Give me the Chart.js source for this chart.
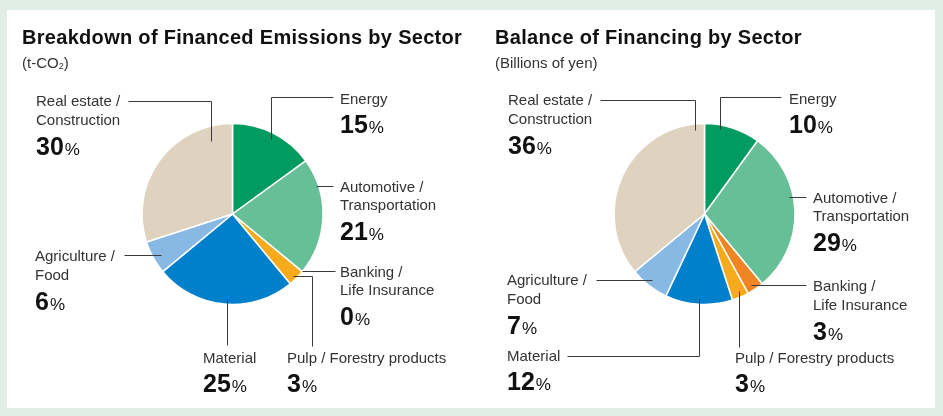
<!DOCTYPE html>
<html lang="en">
<head>
<meta charset="UTF-8">
<title>Financed Emissions and Financing by Sector</title>
<script src="https://cdn.jsdelivr.net/npm/chart.js"></script>
<style>
  html, body { margin: 0; padding: 0; }
  body {
    width: 943px; height: 416px; position: relative; overflow: hidden;
    background: #e0eee6;
    font-family: "Liberation Sans", Arial, sans-serif;
  }
  #panel { position: absolute; left: 7px; top: 10px; width: 928px; height: 398px; background: #fff; }
  canvas { position: absolute; left: 0; top: 0; }
  .title { position: absolute; font-size: 20px; font-weight: bold; letter-spacing: 0.3px; color: #111; white-space: nowrap; line-height: 24px; }
  .unit { position: absolute; font-size: 15px; color: #333; white-space: nowrap; line-height: 18px; }
  .unit sub { font-size: 9px; vertical-align: -1px; }
  .lbl { position: absolute; font-size: 15px; color: #333; white-space: nowrap; line-height: 18px; }
  .pct { position: absolute; font-size: 25px; font-weight: bold; color: #111; white-space: nowrap; line-height: 28px; }
  .pct span { font-size: 17px; font-weight: normal; margin-left: 1px; }
</style>
</head>
<body>
<div id="panel"></div>
<canvas id="emissionsChart" width="943" height="416"></canvas>
<canvas id="financingChart" width="943" height="416"></canvas>

<div class="title" style="left:22px; top:25px;">Breakdown of Financed Emissions by Sector</div>
<div class="unit" style="left:22px; top:54px;">(t-CO<sub>2</sub>)</div>
<div class="title" style="left:495px; top:25px;">Balance of Financing by Sector</div>
<div class="unit" style="left:495px; top:54px;">(Billions of yen)</div>

<script>
// Sector names (one entry per text line), same order as the slices, clockwise from 12 o'clock
const sectorNames = [
  ['Energy'],
  ['Automotive /', 'Transportation'],
  ['Banking /', 'Life Insurance'],
  ['Pulp / Forestry products'],
  ['Material'],
  ['Agriculture /', 'Food'],
  ['Real estate /', 'Construction']
];
// Shares in %
const emissionsShare = [15, 21, 0, 3, 25, 6, 30];
const financingShare = [10, 29, 3, 3, 12, 7, 36];
const sectorColors = ['#009b5f', '#67bf98', '#ef8523', '#f6aa1c', '#0080cb', '#88b9e5', '#dfd3bf'];

// Label placement: x/y = text position (centre of first line),
// at/rf = where the leader starts inside the slice (fraction of the slice, fraction of radius),
// path = bends of the leader line
const emissionsLayout = [
  { x: 340, y: 99,  at: 0.51, rf: 0.93, path: [{ y: 97.5 }, { x: 333 }] },
  { x: 340, y: 187, at: 0.24, rf: 0.98, path: [{ x: 333 }] },
  { x: 340, y: 272, at: 0.0,  rf: 1.0,  path: [{ x: 335 }] },
  { x: 287, y: 358, at: 0.58, rf: 0.965, path: [{ x: 312.5 }, { y: 346.5 }] },
  { x: 203, y: 358, at: 0.48, rf: 0.95, path: [{ y: 345 }] },
  { x: 35,  y: 256.5, at: 0.42, rf: 0.91, path: [{ x: 124 }] },
  { x: 36,  y: 101.5, at: 0.85, rf: 0.83, path: [{ y: 101.5 }, { x: 128 }] }
];
const financingLayout = [
  { x: 789, y: 99,  at: 0.30, rf: 0.945, path: [{ y: 97.5 }, { x: 781.5 }] },
  { x: 813, y: 198, at: 0.41, rf: 0.955, path: [{ x: 806.5 }] },
  { x: 813, y: 286.5, at: 0.59, rf: 0.95, path: [{ x: 806.5 }] },
  { x: 735, y: 358, at: 0.44, rf: 0.94, path: [{ y: 347 }] },
  { x: 507, y: 356, at: 0.49, rf: 0.93, path: [{ y: 356.5 }, { x: 567 }] },
  { x: 507, y: 280.5, at: 0.5, rf: 0.93, path: [{ x: 596 }] },
  { x: 508, y: 100.5, at: 0.955, rf: 0.93, path: [{ y: 100.5 }, { x: 600 }] }
];

const W = 943, H = 416;
const LINE_GAP = 18.8, PCT_GAP = 25;

function leaderLines(layout) {
  return {
    id: 'leaders',
    afterDatasetsDraw(chart) {
      const ctx = chart.ctx;
      const arcs = chart.getDatasetMeta(0).data;
      const snap = v => Math.round(v - 0.5) + 0.5;
      ctx.save();
      ctx.strokeStyle = '#3a3a3a';
      ctx.lineWidth = 1;
      arcs.forEach((arc, i) => {
        const spec = layout[i];
        const a = arc.startAngle + spec.at * (arc.endAngle - arc.startAngle);
        const r = spec.rf * arc.outerRadius;
        let x = snap(arc.x + Math.cos(a) * r);
        let y = snap(arc.y + Math.sin(a) * r);
        ctx.beginPath();
        ctx.moveTo(x, y);
        spec.path.forEach(p => {
          if (p.x !== undefined) x = snap(p.x); else y = snap(p.y);
          ctx.lineTo(x, y);
        });
        ctx.stroke();
      });
      ctx.restore();
    }
  };
}

function addLabels(values, layout) {
  layout.forEach((spec, i) => {
    const lines = sectorNames[i];
    lines.forEach((t, k) => {
      const d = document.createElement('div');
      d.className = 'lbl';
      d.style.left = spec.x + 'px';
      d.style.top = (spec.y - 9.5 + k * LINE_GAP) + 'px';
      d.textContent = t;
      document.body.appendChild(d);
    });
    const p = document.createElement('div');
    p.className = 'pct';
    p.style.left = spec.x + 'px';
    p.style.top = (spec.y + (lines.length - 1) * LINE_GAP + PCT_GAP - 13.7) + 'px';
    p.innerHTML = values[i] + '<span>%</span>';
    document.body.appendChild(p);
  });
}

function drawPie(canvasId, values, centre, radius, layout) {
  const bw = 1.5;
  const side = 2 * radius + bw;
  const left = centre[0] - side / 2;
  const top = centre[1] - side / 2;
  new Chart(document.getElementById(canvasId), {
    type: 'pie',
    data: {
      labels: sectorNames.map(l => l.join(' ')),
      datasets: [{
        data: values,
        backgroundColor: sectorColors,
        borderColor: '#ffffff',
        borderWidth: bw,
        hoverBorderWidth: bw
      }]
    },
    options: {
      responsive: false,
      animation: false,
      events: [],
      layout: { padding: { left: left, top: top, right: W - left - side, bottom: H - top - side } },
      plugins: { legend: { display: false }, tooltip: { enabled: false } }
    },
    plugins: [leaderLines(layout)]
  });
  addLabels(values, layout);
}

drawPie('emissionsChart', emissionsShare, [232.5, 214], 90.5, emissionsLayout);
drawPie('financingChart', financingShare, [704.5, 214], 90.5, financingLayout);
</script>
</body>
</html>
